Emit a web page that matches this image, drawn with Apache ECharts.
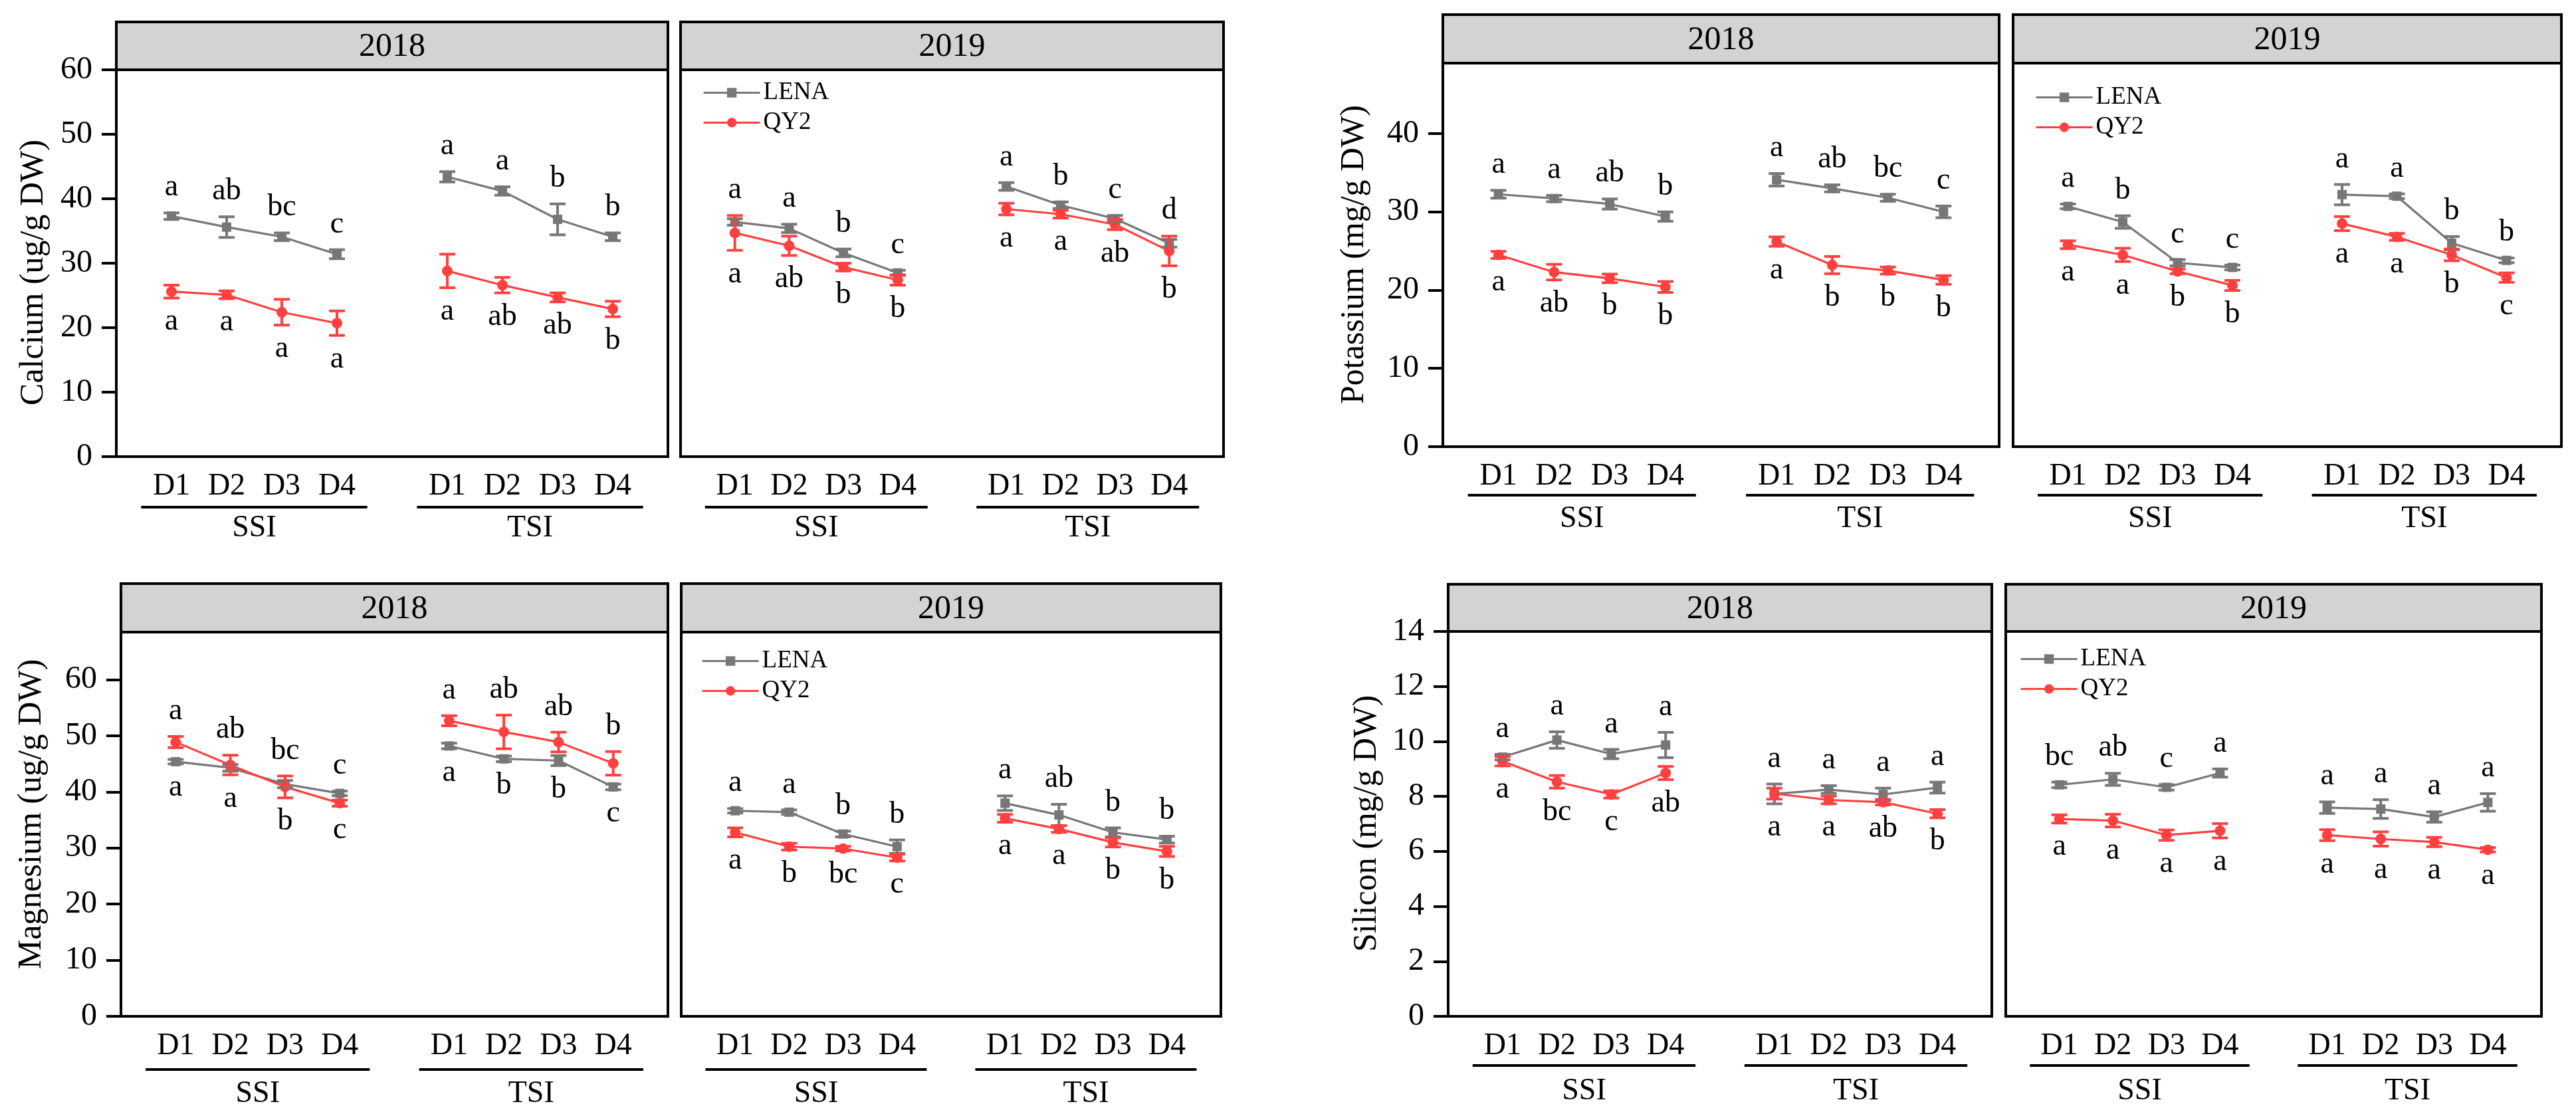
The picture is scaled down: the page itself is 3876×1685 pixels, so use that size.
<!DOCTYPE html>
<html><head><meta charset="utf-8">
<script src="https://cdn.jsdelivr.net/npm/echarts@6/dist/echarts.min.js"></script>
<style>html,body{margin:0;padding:0;background:#fff;}#c{width:3876px;height:1685px;}</style>
</head><body><div id="c"></div>
<script>
// ---------- data ----------
const categories = ['', 'D1', 'D2', 'D3', 'D4', '', 'D1', 'D2', 'D3', 'D4', ''];
const groups = ['SSI', 'TSI'];
const years = ['2018', '2019'];
const seriesNames = ['LENA', 'QY2'];

// Calcium (ug/g DW)
const caTicks = [0, 10, 20, 30, 40, 50, 60];
const caLena18 = [37.3, 35.6, 34.1, 31.4, 43.4, 41.2, 36.8, 34.1];
const caLena18Err = [0.5, 1.6, 0.6, 0.7, 0.8, 0.65, 2.4, 0.6];
const caQy18 = [25.6, 25.1, 22.4, 20.7, 28.8, 26.6, 24.7, 22.9];
const caQy18Err = [1.0, 0.6, 2.0, 1.9, 2.6, 1.2, 0.7, 1.2];
const caTop18 = ['a', 'ab', 'bc', 'c', 'a', 'a', 'b', 'b'];
const caBot18 = ['a', 'a', 'a', 'a', 'a', 'ab', 'ab', 'b'];
const caLena19 = [36.4, 35.4, 31.6, 28.5, 41.9, 39.0, 36.9, 33.1];
const caLena19Err = [0.5, 0.65, 0.6, 0.4, 0.6, 0.5, 0.5, 0.6];
const caQy19 = [34.7, 32.7, 29.4, 27.4, 38.4, 37.6, 36.0, 31.9];
const caQy19Err = [2.7, 1.5, 0.6, 0.8, 0.9, 0.6, 0.8, 2.3];
const caTop19 = ['a', 'a', 'b', 'c', 'a', 'b', 'c', 'd'];
const caBot19 = ['a', 'ab', 'b', 'b', 'a', 'a', 'ab', 'b'];

// Potassium (mg/g DW)
const kTicks = [0, 10, 20, 30, 40];
const kLena18 = [32.25, 31.7, 31.0, 29.4, 34.1, 33.0, 31.8, 30.0];
const kLena18Err = [0.5, 0.4, 0.65, 0.6, 0.8, 0.45, 0.45, 0.75];
const kQy18 = [24.5, 22.3, 21.5, 20.4, 26.2, 23.2, 22.5, 21.3];
const kQy18Err = [0.45, 1.0, 0.55, 0.7, 0.6, 1.1, 0.45, 0.55];
const kTop18 = ['a', 'a', 'ab', 'b', 'a', 'ab', 'bc', 'c'];
const kBot18 = ['a', 'ab', 'b', 'b', 'a', 'b', 'b', 'b'];
const kLena19 = [30.7, 28.7, 23.5, 22.9, 32.2, 32.0, 26.0, 23.8];
const kLena19Err = [0.3, 0.8, 0.4, 0.3, 1.3, 0.3, 0.85, 0.3];
const kQy19 = [25.8, 24.5, 22.4, 20.6, 28.5, 26.8, 24.5, 21.6];
const kQy19Err = [0.5, 0.85, 0.3, 0.65, 0.9, 0.45, 0.75, 0.6];
const kTop19 = ['a', 'b', 'c', 'c', 'a', 'a', 'b', 'b'];
const kBot19 = ['a', 'a', 'b', 'b', 'a', 'a', 'b', 'c'];

// Magnesium (ug/g DW)
const mgTicks = [0, 10, 20, 30, 40, 50, 60];
const mgLena18 = [45.4, 44.3, 41.4, 39.75, 48.2, 45.9, 45.6, 40.9];
const mgLena18Err = [0.4, 0.6, 0.65, 0.4, 0.5, 0.5, 0.9, 0.5];
const mgQy18 = [48.9, 44.8, 40.9, 38.0, 52.7, 50.7, 48.9, 45.1];
const mgQy18Err = [1.0, 1.75, 1.95, 0.55, 0.9, 3.0, 1.75, 2.1];
const mgTop18 = ['a', 'ab', 'bc', 'c', 'a', 'ab', 'ab', 'b'];
const mgBot18 = ['a', 'a', 'b', 'c', 'a', 'b', 'b', 'c'];
const mgLena19 = [36.65, 36.4, 32.5, 30.25, 38.0, 35.9, 32.8, 31.5];
const mgLena19Err = [0.4, 0.4, 0.5, 1.2, 1.3, 1.9, 0.8, 0.6];
const mgQy19 = [32.8, 30.25, 29.9, 28.3, 35.3, 33.4, 31.0, 29.4];
const mgQy19Err = [0.8, 0.6, 0.4, 0.6, 0.7, 0.6, 0.8, 0.9];
const mgTop19 = ['a', 'a', 'b', 'b', 'a', 'ab', 'b', 'b'];
const mgBot19 = ['a', 'b', 'bc', 'c', 'a', 'a', 'b', 'b'];

// Silicon (mg/g DW)
const siTicks = [0, 2, 4, 6, 8, 10, 12, 14];
const siLena18 = [9.43, 10.05, 9.54, 9.87, 8.09, 8.25, 8.07, 8.32];
const siLena18Err = [0.1, 0.3, 0.17, 0.46, 0.36, 0.14, 0.23, 0.2];
const siQy18 = [9.28, 8.53, 8.07, 8.85, 8.1, 7.87, 7.79, 7.37];
const siQy18Err = [0.17, 0.23, 0.13, 0.24, 0.2, 0.14, 0.1, 0.15];
const siTop18 = ['a', 'a', 'a', 'a', 'a', 'a', 'a', 'a'];
const siBot18 = ['a', 'bc', 'c', 'ab', 'a', 'a', 'ab', 'b'];
const siLena19 = [8.42, 8.62, 8.33, 8.85, 7.59, 7.54, 7.25, 7.78];
const siLena19Err = [0.1, 0.22, 0.1, 0.15, 0.21, 0.34, 0.19, 0.32];
const siQy19 = [7.18, 7.12, 6.59, 6.75, 6.59, 6.45, 6.34, 6.06];
const siQy19Err = [0.15, 0.23, 0.19, 0.26, 0.2, 0.26, 0.17, 0.08];
const siTop19 = ['bc', 'ab', 'c', 'a', 'a', 'a', 'a', 'a'];
const siBot19 = ['a', 'a', 'a', 'a', 'a', 'a', 'a', 'a'];

// ---------- layout / style ----------
const FONT = '"Liberation Serif", "Times New Roman", serif';
const GRAY = '#777777', RED = '#FF4040';
const catIdx = [1, 2, 3, 4, 6, 7, 8, 9];
const groupSpans = [[1, 4], [6, 9]];

const blocks = [
  { title: 'Calcium (ug/g DW)', yMax: 60, step: 10, ticks: caTicks,
    stripTop: 33, gridTop: 105, gridBottom: 687, panels: [[175, 1005], [1024, 1841]],
    titleX: 51, titleY: 410, legendLeft: 1057, legendTop: 121, lineOff: 76, grpOff: 108,
    sets: [[caLena18, caLena18Err, caQy18, caQy18Err, caTop18, caBot18],
           [caLena19, caLena19Err, caQy19, caQy19Err, caTop19, caBot19]] },
  { title: 'Potassium (mg/g DW)', yMax: 49, step: 10, ticks: kTicks,
    stripTop: 22, gridTop: 95, gridBottom: 672, panels: [[2171, 3008], [3029, 3854]],
    titleX: 2038, titleY: 383, legendLeft: 3062, legendTop: 128, lineOff: 73, grpOff: 109,
    sets: [[kLena18, kLena18Err, kQy18, kQy18Err, kTop18, kBot18],
           [kLena19, kLena19Err, kQy19, kQy19Err, kTop19, kBot19]] },
  { title: 'Magnesium (ug/g DW)', yMax: 68.5, step: 10, ticks: mgTicks,
    stripTop: 878, gridTop: 951, gridBottom: 1529, panels: [[182, 1005], [1025, 1837]],
    titleX: 48, titleY: 1225, legendLeft: 1055, legendTop: 976, lineOff: 80, grpOff: 117,
    sets: [[mgLena18, mgLena18Err, mgQy18, mgQy18Err, mgTop18, mgBot18],
           [mgLena19, mgLena19Err, mgQy19, mgQy19Err, mgTop19, mgBot19]] },
  { title: 'Silicon (mg/g DW)', yMax: 14, step: 2, ticks: siTicks,
    stripTop: 879, gridTop: 950, gridBottom: 1529, panels: [[2179, 2997], [3018, 3824]],
    titleX: 2057, titleY: 1239, legendLeft: 3039, legendTop: 973, lineOff: 74, grpOff: 113,
    sets: [[siLena18, siLena18Err, siQy18, siQy18Err, siTop18, siBot18],
           [siLena19, siLena19Err, siQy19, siQy19Err, siTop19, siBot19]] }
];

function full(v) { return [null, v[0], v[1], v[2], v[3], null, v[4], v[5], v[6], v[7], null]; }

const grids = [], xAxes = [], yAxes = [], series = [], legends = [], graphics = [];

function errSeries(gi, means, errs, color, name) {
  return {
    type: 'custom', name: name, xAxisIndex: gi, yAxisIndex: gi, clip: false, z: 4,
    data: catIdx.map((c, i) => [c, means[i], errs[i]]),
    renderItem: function (params, api) {
      const x = api.value(0), m = api.value(1), e = api.value(2);
      const t = api.coord([x, m + e]), b = api.coord([x, m - e]);
      const hw = 12, st = { stroke: color, lineWidth: 4 };
      return { type: 'group', children: [
        { type: 'line', shape: { x1: t[0], y1: t[1], x2: b[0], y2: b[1] }, style: st },
        { type: 'line', shape: { x1: t[0] - hw, y1: t[1], x2: t[0] + hw, y2: t[1] }, style: st },
        { type: 'line', shape: { x1: b[0] - hw, y1: b[1], x2: b[0] + hw, y2: b[1] }, style: st }
      ] };
    }
  };
}

blocks.forEach((b, bi) => {
  b.panels.forEach((pp, p) => {
    const gi = grids.length;
    const [lena, lenaErr, qy, qyErr, topL, botL] = b.sets[p];
    grids.push({ left: pp[0], top: b.gridTop, width: pp[1] - pp[0], height: b.gridBottom - b.gridTop,
      show: true, borderColor: '#000', borderWidth: 4, backgroundColor: '#fff' });
    xAxes.push({ gridIndex: gi, type: 'category', data: categories, boundaryGap: false,
      axisLine: { show: false }, axisTick: { show: false }, splitLine: { show: false },
      axisLabel: { interval: 0, fontSize: 46, fontFamily: FONT, color: '#000', margin: 22 } });
    yAxes.push({ gridIndex: gi, type: 'value', min: 0, max: b.yMax, interval: b.step,
      splitLine: { show: false },
      axisLine: { show: p === 0, lineStyle: { color: '#000', width: 4 } },
      axisTick: { show: p === 0, length: 22, lineStyle: { color: '#000', width: 4 }, customValues: b.ticks },
      axisLabel: { show: p === 0, customValues: b.ticks, fontSize: 48, fontFamily: FONT, color: '#000', margin: 36 } });

    series.push({ type: 'line', name: seriesNames[0], xAxisIndex: gi, yAxisIndex: gi, data: full(lena),
      symbol: 'rect', symbolSize: 14, connectNulls: false, z: 3,
      lineStyle: { color: GRAY, width: 3.2 }, itemStyle: { color: GRAY } });
    series.push({ type: 'line', name: seriesNames[1], xAxisIndex: gi, yAxisIndex: gi, data: full(qy),
      symbol: 'circle', symbolSize: 16, connectNulls: false, z: 3,
      lineStyle: { color: RED, width: 3.2 }, itemStyle: { color: RED } });
    series.push(errSeries(gi, lena, lenaErr, GRAY, 'errL'));
    series.push(errSeries(gi, qy, qyErr, RED, 'errQ'));

    // significance letters, placed from the error-bar extremes
    series.push({ type: 'custom', name: 'letters', xAxisIndex: gi, yAxisIndex: gi, clip: false, z: 5,
      data: catIdx.map((c, i) => [c,
        Math.max(lena[i] + lenaErr[i], qy[i] + qyErr[i]),
        Math.min(lena[i] - lenaErr[i], qy[i] - qyErr[i])]),
      renderItem: function (params, api) {
        const i = params.dataIndex, x = api.value(0);
        const t = api.coord([x, api.value(1)]), bt = api.coord([x, api.value(2)]);
        const st = (txt) => ({ text: txt, fontSize: 46, fontFamily: FONT, fill: '#000', align: 'center', verticalAlign: 'middle' });
        return { type: 'group', children: [
          { type: 'text', x: t[0], y: t[1] - 38, style: st(topL[i]) },
          { type: 'text', x: bt[0], y: bt[1] + 36, style: st(botL[i]) }
        ] };
      } });

    // group underline + label (SSI / TSI)
    series.push({ type: 'custom', name: 'groups', xAxisIndex: gi, yAxisIndex: gi, clip: false, z: 5,
      data: groupSpans.map(s => [s[0], s[1]]),
      renderItem: function (params, api) {
        const a = api.coord([api.value(0), 0]), z = api.coord([api.value(1), 0]);
        const slot = (z[0] - a[0]) / 3, y = a[1] + b.lineOff;
        return { type: 'group', children: [
          { type: 'line', shape: { x1: a[0] - 0.55 * slot, y1: y, x2: z[0] + 0.55 * slot, y2: y },
            style: { stroke: '#000', lineWidth: 4 } },
          { type: 'text', x: (a[0] + z[0]) / 2, y: a[1] + b.grpOff,
            style: { text: groups[params.dataIndex], fontSize: 46, fontFamily: FONT, fill: '#000', align: 'center', verticalAlign: 'middle' } }
        ] };
      } });

    // strip
    graphics.push({ type: 'rect', shape: { x: pp[0], y: b.stripTop, width: pp[1] - pp[0], height: b.gridTop - b.stripTop },
      style: { fill: '#d3d3d3', stroke: '#000', lineWidth: 4 }, z: 10 });
    graphics.push({ type: 'text', x: (pp[0] + pp[1]) / 2, y: (b.stripTop + b.gridTop) / 2 + 2,
      style: { text: years[p], fontSize: 50, fontFamily: FONT, fill: '#000', align: 'center', verticalAlign: 'middle' }, z: 11 });
  });
  legends.push({ data: seriesNames.slice(), orient: 'vertical', left: b.legendLeft, top: b.legendTop,
    itemWidth: 85, itemHeight: 18, itemGap: 8, selectedMode: false, padding: 0,
    lineStyle: { width: 3.2 },
    textStyle: { fontSize: 37, fontFamily: FONT, color: '#000' } });
  graphics.push({ type: 'text', x: b.titleX, y: b.titleY, rotation: Math.PI / 2,
    style: { text: b.title, fontSize: 50, fontFamily: FONT, fill: '#000', align: 'center', verticalAlign: 'middle' } });
});

const chart = echarts.init(document.getElementById('c'));
chart.setOption({
  animation: false,
  backgroundColor: '#fff',
  grid: grids, xAxis: xAxes, yAxis: yAxes, series: series, legend: legends, graphic: graphics
});
</script></body></html>
